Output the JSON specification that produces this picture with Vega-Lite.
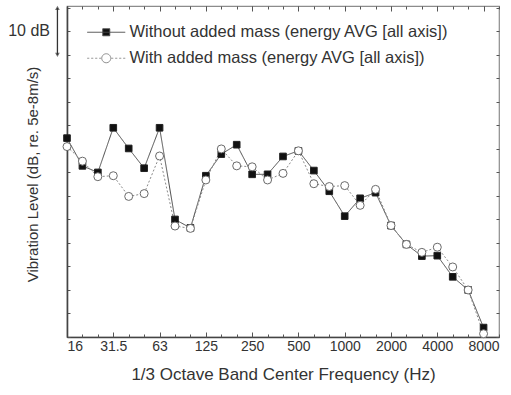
{
  "$schema": "https://vega.github.io/schema/vega-lite/v6.json",
  "width": 432,
  "height": 331,
  "autosize": "none",
  "padding": {"left": 67, "top": 6, "right": 12, "bottom": 58},
  "background": "white",
  "datasets": {
    "levels": [
      {"series": "Without added mass (energy AVG [all axis])", "band": 0, "hz": "16", "level": 42.3},
      {"series": "Without added mass (energy AVG [all axis])", "band": 1, "hz": "20", "level": 36.4},
      {"series": "Without added mass (energy AVG [all axis])", "band": 2, "hz": "25", "level": 35.0},
      {"series": "Without added mass (energy AVG [all axis])", "band": 3, "hz": "31.5", "level": 44.5},
      {"series": "Without added mass (energy AVG [all axis])", "band": 4, "hz": "40", "level": 40.1},
      {"series": "Without added mass (energy AVG [all axis])", "band": 5, "hz": "50", "level": 35.9},
      {"series": "Without added mass (energy AVG [all axis])", "band": 6, "hz": "63", "level": 44.5},
      {"series": "Without added mass (energy AVG [all axis])", "band": 7, "hz": "80", "level": 25.0},
      {"series": "Without added mass (energy AVG [all axis])", "band": 8, "hz": "100", "level": 23.2},
      {"series": "Without added mass (energy AVG [all axis])", "band": 9, "hz": "125", "level": 34.3},
      {"series": "Without added mass (energy AVG [all axis])", "band": 10, "hz": "160", "level": 38.9},
      {"series": "Without added mass (energy AVG [all axis])", "band": 11, "hz": "200", "level": 40.9},
      {"series": "Without added mass (energy AVG [all axis])", "band": 12, "hz": "250", "level": 34.6},
      {"series": "Without added mass (energy AVG [all axis])", "band": 13, "hz": "315", "level": 34.6},
      {"series": "Without added mass (energy AVG [all axis])", "band": 14, "hz": "400", "level": 38.4},
      {"series": "Without added mass (energy AVG [all axis])", "band": 15, "hz": "500", "level": 39.6},
      {"series": "Without added mass (energy AVG [all axis])", "band": 16, "hz": "630", "level": 35.4},
      {"series": "Without added mass (energy AVG [all axis])", "band": 17, "hz": "800", "level": 31.0},
      {"series": "Without added mass (energy AVG [all axis])", "band": 18, "hz": "1000", "level": 25.7},
      {"series": "Without added mass (energy AVG [all axis])", "band": 19, "hz": "1250", "level": 29.5},
      {"series": "Without added mass (energy AVG [all axis])", "band": 20, "hz": "1600", "level": 30.7},
      {"series": "Without added mass (energy AVG [all axis])", "band": 21, "hz": "2000", "level": 23.7},
      {"series": "Without added mass (energy AVG [all axis])", "band": 22, "hz": "2500", "level": 19.7},
      {"series": "Without added mass (energy AVG [all axis])", "band": 23, "hz": "3150", "level": 17.2},
      {"series": "Without added mass (energy AVG [all axis])", "band": 24, "hz": "4000", "level": 17.3},
      {"series": "Without added mass (energy AVG [all axis])", "band": 25, "hz": "5000", "level": 12.8},
      {"series": "Without added mass (energy AVG [all axis])", "band": 26, "hz": "6300", "level": 10.0},
      {"series": "Without added mass (energy AVG [all axis])", "band": 27, "hz": "8000", "level": 2.0},
      {"series": "With added mass (energy AVG [all axis])", "band": 0, "hz": "16", "level": 40.5},
      {"series": "With added mass (energy AVG [all axis])", "band": 1, "hz": "20", "level": 37.4},
      {"series": "With added mass (energy AVG [all axis])", "band": 2, "hz": "25", "level": 34.1},
      {"series": "With added mass (energy AVG [all axis])", "band": 3, "hz": "31.5", "level": 34.3},
      {"series": "With added mass (energy AVG [all axis])", "band": 4, "hz": "40", "level": 29.9},
      {"series": "With added mass (energy AVG [all axis])", "band": 5, "hz": "50", "level": 30.5},
      {"series": "With added mass (energy AVG [all axis])", "band": 6, "hz": "63", "level": 38.5},
      {"series": "With added mass (energy AVG [all axis])", "band": 7, "hz": "80", "level": 23.6},
      {"series": "With added mass (energy AVG [all axis])", "band": 8, "hz": "100", "level": 23.1},
      {"series": "With added mass (energy AVG [all axis])", "band": 9, "hz": "125", "level": 33.4},
      {"series": "With added mass (energy AVG [all axis])", "band": 10, "hz": "160", "level": 40.0},
      {"series": "With added mass (energy AVG [all axis])", "band": 11, "hz": "200", "level": 36.4},
      {"series": "With added mass (energy AVG [all axis])", "band": 12, "hz": "250", "level": 36.2},
      {"series": "With added mass (energy AVG [all axis])", "band": 13, "hz": "315", "level": 33.4},
      {"series": "With added mass (energy AVG [all axis])", "band": 14, "hz": "400", "level": 34.8},
      {"series": "With added mass (energy AVG [all axis])", "band": 15, "hz": "500", "level": 39.6},
      {"series": "With added mass (energy AVG [all axis])", "band": 16, "hz": "630", "level": 32.6},
      {"series": "With added mass (energy AVG [all axis])", "band": 17, "hz": "800", "level": 32.0},
      {"series": "With added mass (energy AVG [all axis])", "band": 18, "hz": "1000", "level": 32.2},
      {"series": "With added mass (energy AVG [all axis])", "band": 19, "hz": "1250", "level": 28.0},
      {"series": "With added mass (energy AVG [all axis])", "band": 20, "hz": "1600", "level": 31.4},
      {"series": "With added mass (energy AVG [all axis])", "band": 21, "hz": "2000", "level": 23.7},
      {"series": "With added mass (energy AVG [all axis])", "band": 22, "hz": "2500", "level": 19.7},
      {"series": "With added mass (energy AVG [all axis])", "band": 23, "hz": "3150", "level": 18.0},
      {"series": "With added mass (energy AVG [all axis])", "band": 24, "hz": "4000", "level": 19.1},
      {"series": "With added mass (energy AVG [all axis])", "band": 25, "hz": "5000", "level": 14.9},
      {"series": "With added mass (energy AVG [all axis])", "band": 26, "hz": "6300", "level": 10.0},
      {"series": "With added mass (energy AVG [all axis])", "band": 27, "hz": "8000", "level": 0.7}
    ],
    "scalebar": [
      {"label": "10 dB", "from": 60, "to": 70}
    ]
  },
  "layer": [
    {
      "data": {"name": "levels"},
      "mark": {"type": "line", "strokeWidth": 1},
      "encoding": {
        "x": {
          "field": "band", "type": "quantitative",
          "scale": {"domain": [0, 28], "nice": false, "zero": false},
          "axis": {
            "orient": "bottom",
            "title": "1/3 Octave Band Center Frequency (Hz)",
            "values": [0, 3, 6, 9, 12, 15, 18, 21, 24, 27],
            "labelExpr": "['16','31.5','63','125','250','500','1000','2000','4000','8000'][datum.value / 3]",
            "tickSize": -5,
            "labelPadding": 7,
            "labelFontSize": 14,
            "titleFontSize": 17,
            "titlePadding": 13,
            "domainWidth": 1.6
          }
        },
        "y": {
          "field": "level", "type": "quantitative",
          "scale": {"domain": [0, 70.4], "nice": false, "zero": false},
          "axis": {
            "orient": "left",
            "title": "Vibration Level (dB, re. 5e-8m/s)",
            "values": [0, 5, 10, 15, 20, 25, 30, 35, 40, 45, 50, 55, 60, 65, 70],
            "labels": false,
            "tickSize": -3,
            "titleFontSize": 15,
            "titleX": -35,
            "titleY": 168,
            "titleAngle": 270,
            "titleAlign": "center",
            "titleBaseline": "middle",
            "domainWidth": 1.6
          }
        },
        "color": {
          "field": "series", "type": "nominal",
          "scale": {
            "domain": ["Without added mass (energy AVG [all axis])", "With added mass (energy AVG [all axis])"],
            "range": ["#4a4a4a", "#8a8a8a"]
          },
          "legend": {
            "title": null,
            "orient": "none",
            "legendX": 31,
            "legendY": 18,
            "padding": 0,
            "symbolSize": 100,
            "labelOffset": 15,
            "labelFontSize": 16.5,
            "labelColor": "#333",
            "labelFont": "Liberation Sans",
            "rowPadding": 9,
            "labelLimit": 420,
            "encode": {
              "symbols": {
                "update": {
                  "shape": {"signal": "datum.value === 'Without added mass (energy AVG [all axis])' ? 'M-3.8,0H3.8M-0.7,-0.7H0.7V0.7H-0.7Z' : 'M-3.8,0H-3.4M-3,0H-2.6M-2.2,0H-1.8M-1.4,0H-1M1,0H1.4M1.8,0H2.2M2.6,0H3M3.4,0H3.8M-0.9,0A0.9,0.9 0 1,1 0.9,0A0.9,0.9 0 1,1 -0.9,0Z'"},
                  "fill": {"signal": "datum.value === 'Without added mass (energy AVG [all axis])' ? '#111' : '#fff'"},
                  "fillOpacity": {"value": 1},
                  "strokeWidth": {"value": 1},
                  "strokeDash": {"value": [1, 0]},
                  "size": {"value": 100},
                  "opacity": {"value": 1}
                }
              }
            }
          }
        },
        "strokeDash": {
          "condition": {"test": "datum.series === 'With added mass (energy AVG [all axis])'", "value": [2, 2]},
          "value": [1, 0]
        }
      }
    },
    {
      "data": {"name": "levels"},
      "mark": {"type": "point", "filled": false, "strokeWidth": 1, "opacity": 1},
      "encoding": {
        "x": {
          "field": "band", "type": "quantitative",
          "axis": {
            "orient": "top",
            "title": null,
            "labels": false,
            "domain": false,
            "values": [0, 3, 6, 9, 12, 15, 18, 21, 24, 27],
            "tickSize": -5
          }
        },
        "y": {
          "field": "level", "type": "quantitative",
          "axis": {
            "orient": "right",
            "title": null,
            "labels": false,
            "domain": false,
            "values": [0, 5, 10, 15, 20, 25, 30, 35, 40, 45, 50, 55, 60, 65, 70],
            "tickSize": -3
          }
        },
        "shape": {
          "condition": {"test": "datum.series === 'With added mass (energy AVG [all axis])'", "value": "circle"},
          "value": "square"
        },
        "size": {
          "condition": {"test": "datum.series === 'With added mass (energy AVG [all axis])'", "value": 64},
          "value": 44
        },
        "fill": {
          "condition": {"test": "datum.series === 'With added mass (energy AVG [all axis])'", "value": "#ffffff"},
          "value": "#111111"
        },
        "stroke": {
          "condition": {"test": "datum.series === 'With added mass (energy AVG [all axis])'", "value": "#6a6a6a"},
          "value": "#222222"
        }
      }
    },
    {
      "data": {"name": "scalebar"},
      "mark": {"type": "rule", "color": "#333", "strokeWidth": 1.3, "clip": false},
      "encoding": {
        "x": {
          "datum": -0.62, "type": "quantitative",
          "axis": {
            "orient": "bottom",
            "title": null,
            "labels": false,
            "domain": false,
            "values": [0, 1, 2, 3, 4, 5, 6, 7, 8, 9, 10, 11, 12, 13, 14, 15, 16, 17, 18, 19, 20, 21, 22, 23, 24, 25, 26, 27, 28],
            "tickSize": -3
          }
        },
        "y": {"field": "from", "type": "quantitative", "axis": null},
        "y2": {"field": "to"}
      }
    },
    {
      "data": {"name": "scalebar"},
      "mark": {"type": "text", "align": "right", "baseline": "middle", "fontSize": 16, "font": "Liberation Sans", "color": "#333", "clip": false},
      "encoding": {
        "x": {
          "datum": -1.1, "type": "quantitative",
          "axis": {
            "orient": "top",
            "title": null,
            "labels": false,
            "domain": false,
            "values": [0, 1, 2, 3, 4, 5, 6, 7, 8, 9, 10, 11, 12, 13, 14, 15, 16, 17, 18, 19, 20, 21, 22, 23, 24, 25, 26, 27, 28],
            "tickSize": -3
          }
        },
        "y": {"datum": 65, "type": "quantitative", "axis": null},
        "text": {"field": "label"}
      }
    },
    {
      "data": {"name": "scalebar"},
      "mark": {"type": "point", "shape": "triangle-up", "filled": true, "color": "#333", "size": 22, "clip": false},
      "encoding": {
        "x": {"datum": -0.62, "type": "quantitative", "axis": null},
        "y": {"field": "to", "type": "quantitative", "axis": null}
      }
    },
    {
      "data": {"name": "scalebar"},
      "mark": {"type": "point", "shape": "triangle-down", "filled": true, "color": "#333", "size": 22, "clip": false},
      "encoding": {
        "x": {"datum": -0.62, "type": "quantitative", "axis": null},
        "y": {"field": "from", "type": "quantitative", "axis": null}
      }
    }
  ],
  "resolve": {"axis": {"x": "independent", "y": "independent"}},
  "config": {
    "font": "Liberation Sans",
    "view": {"stroke": "#8c8c8c", "strokeWidth": 1.2},
    "axis": {
      "grid": false,
      "labelFont": "Liberation Sans",
      "titleFont": "Liberation Sans",
      "labelColor": "#333",
      "titleColor": "#333",
      "titleFontWeight": "normal",
      "tickColor": "#555",
      "domainColor": "#444"
    }
  }
}
